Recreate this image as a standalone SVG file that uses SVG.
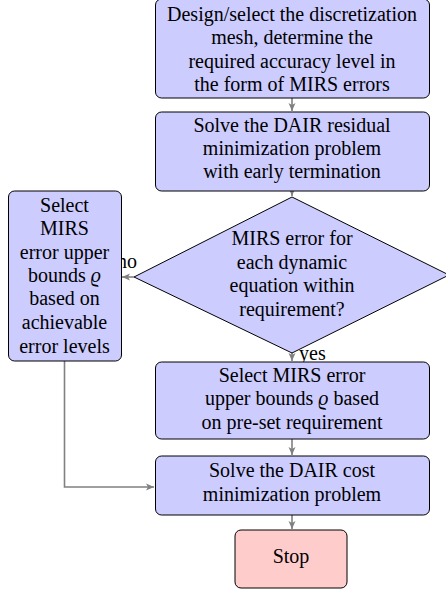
<svg xmlns="http://www.w3.org/2000/svg" width="446" height="593" viewBox="0 0 446 593">
<style>
.n{fill:#ccccff;stroke:#000;stroke-width:1}
.s{fill:#ffcccc;stroke:#000;stroke-width:1}
.c{fill:none;stroke:#808080;stroke-width:1.6}
</style>
<defs>
<marker id="a" markerWidth="10" markerHeight="8" refX="8" refY="4" orient="auto" markerUnits="userSpaceOnUse">
<path d="M0,0.5 L8,4 L0,7.5 L2,4 z" fill="#808080"/>
</marker>
</defs>
<g id="connectors">
<path class="c" d="M292,98 V111" marker-end="url(#a)"/>
<path class="c" d="M292,191 V196" marker-end="url(#a)"/>
<path class="c" d="M134,277 H122" marker-end="url(#a)"/>
<path class="c" d="M292,353 V361" marker-end="url(#a)"/>
<path class="c" d="M292,439 V455" marker-end="url(#a)"/>
<path class="c" d="M64.5,361 V487 H154" marker-end="url(#a)"/>
<path class="c" d="M292,515 V529" marker-end="url(#a)"/>
<text font-family="Liberation Serif" font-size="20" x="117" y="268">no</text>
<text font-family="Liberation Serif" font-size="20" x="299" y="360">yes</text>
</g>
<g id="n1">
<rect class="n" x="155.5" y="-1" width="274" height="99" rx="6"/>
<text font-family="Liberation Serif" font-size="20" text-anchor="middle" x="292" y="21">Design/select the discretization</text>
<text font-family="Liberation Serif" font-size="20" text-anchor="middle" x="292" y="44">mesh, determine the</text>
<text font-family="Liberation Serif" font-size="20" text-anchor="middle" x="292" y="67.5">required accuracy level in</text>
<text font-family="Liberation Serif" font-size="20" text-anchor="middle" x="292" y="91">the form of MIRS errors</text>
</g>
<g id="n2">
<rect class="n" x="155.5" y="112" width="274" height="79" rx="6"/>
<text font-family="Liberation Serif" font-size="20" text-anchor="middle" x="292" y="132">Solve the DAIR residual</text>
<text font-family="Liberation Serif" font-size="20" text-anchor="middle" x="292" y="155">minimization problem</text>
<text font-family="Liberation Serif" font-size="20" text-anchor="middle" x="292" y="177.5">with early termination</text>
</g>
<g id="n3">
<polygon class="n" points="292,197 449,275 292,353 134,277"/>
<text font-family="Liberation Serif" font-size="20" text-anchor="middle" x="292" y="245">MIRS error for</text>
<text font-family="Liberation Serif" font-size="20" text-anchor="middle" x="292" y="268.5">each dynamic</text>
<text font-family="Liberation Serif" font-size="20" text-anchor="middle" x="292" y="292">equation within</text>
<text font-family="Liberation Serif" font-size="20" text-anchor="middle" x="292" y="316">requirement?</text>
</g>
<g id="n4">
<rect class="n" x="8.5" y="191" width="113" height="170" rx="6"/>
<text font-family="Liberation Serif" font-size="20" text-anchor="middle" x="64.5" y="212">Select</text>
<text font-family="Liberation Serif" font-size="20" text-anchor="middle" x="64.5" y="235">MIRS</text>
<text font-family="Liberation Serif" font-size="20" text-anchor="middle" x="64.5" y="259">error upper</text>
<text font-family="Liberation Serif" font-size="20" text-anchor="middle" x="64.5" y="282">bounds <tspan font-style="italic">&#x3F1;</tspan></text>
<text font-family="Liberation Serif" font-size="20" text-anchor="middle" x="64.5" y="305">based on</text>
<text font-family="Liberation Serif" font-size="20" text-anchor="middle" x="64.5" y="329">achievable</text>
<text font-family="Liberation Serif" font-size="20" text-anchor="middle" x="64.5" y="353">error levels</text>
</g>
<g id="n5">
<rect class="n" x="155.5" y="362" width="274" height="77" rx="6"/>
<text font-family="Liberation Serif" font-size="20" text-anchor="middle" x="292" y="382">Select MIRS error</text>
<text font-family="Liberation Serif" font-size="20" text-anchor="middle" x="292" y="405">upper bounds <tspan font-style="italic">&#x3F1;</tspan> based</text>
<text font-family="Liberation Serif" font-size="20" text-anchor="middle" x="292" y="428.5">on pre-set requirement</text>
</g>
<g id="n6">
<rect class="n" x="155.5" y="456" width="274" height="59" rx="6"/>
<text font-family="Liberation Serif" font-size="20" text-anchor="middle" x="292" y="477">Solve the DAIR cost</text>
<text font-family="Liberation Serif" font-size="20" text-anchor="middle" x="292" y="501">minimization problem</text>
</g>
<g id="n7">
<rect class="s" x="235" y="530" width="112" height="58" rx="6"/>
<text font-family="Liberation Serif" font-size="20" text-anchor="middle" x="291" y="563">Stop</text>
</g>
</svg>
